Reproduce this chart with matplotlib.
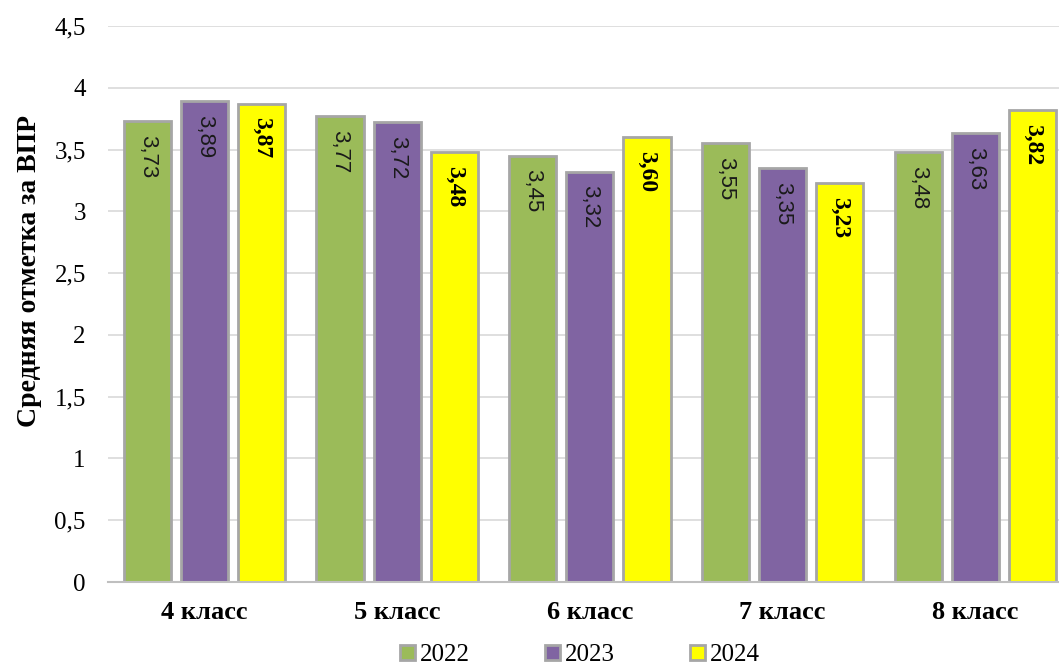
import numpy as np
import matplotlib
matplotlib.use('Agg')
import matplotlib.pyplot as plt
from matplotlib.patches import Patch

# data
classes = ['4 класс', '5 класс', '6 класс', '7 класс', '8 класс']
years = ['2022', '2023', '2024']
v2022 = [3.73, 3.77, 3.45, 3.55, 3.48]
v2023 = [3.89, 3.72, 3.32, 3.35, 3.63]
v2024 = [3.87, 3.48, 3.60, 3.23, 3.82]
yticks = [0, 0.5, 1, 1.5, 2, 2.5, 3, 3.5, 4, 4.5]

colors = ['#9BBB59', '#8064A2', '#FFFF00']
edge = '#A6A6A6'
serif = 'Liberation Serif'
sans = 'Liberation Sans'

fig = plt.figure(figsize=(10.59, 6.70), dpi=100)
ax = fig.add_axes([0.102, 0.1313, 0.910, 0.8299])

x = np.arange(len(classes))
w = 0.245
off = 0.296
series = [v2022, v2023, v2024]
for i, vals in enumerate(series):
    pos = x + (i - 1) * off
    ax.bar(pos, vals, w, color=colors[i], edgecolor=edge, linewidth=2, zorder=3)
    for p, v in zip(pos, vals):
        lab = f'{v:.2f}'.replace('.', ',')
        if i == 2:
            ax.text(p, v - 0.11, lab, rotation=-90, ha='center', va='top',
                    fontsize=17, fontweight='bold', family=serif, zorder=4)
        else:
            ax.text(p, v - 0.11, lab, rotation=-90, ha='center', va='top',
                    fontsize=16, family=sans, color='#1a1a1a', zorder=4)

ax.set_xlim(-0.5, len(classes) - 0.5)
ax.set_ylim(0, 4.5)
ax.set_yticks(yticks)
ax.set_yticklabels([f'{t:g}'.replace('.', ',') for t in yticks],
                   fontsize=18, family=serif)
ax.set_xticks(x)
ax.set_xticklabels(classes, fontsize=19, fontweight='bold', family=serif)
ax.tick_params(axis='y', length=0, pad=16)
ax.tick_params(axis='x', length=0, pad=14)
ax.grid(axis='y', color='#D9D9D9', linewidth=1.2, zorder=0)
for s in ['top', 'right', 'left']:
    ax.spines[s].set_visible(False)
ax.spines['bottom'].set_color('#BFBFBF')
ax.spines['bottom'].set_linewidth(1.5)
ax.spines['bottom'].set_zorder(5)

ax.set_ylabel('Средняя отметка за ВПР', fontsize=20, fontweight='bold',
              family=serif)
ax.yaxis.set_label_coords(-0.068, 0.56)

handles = [Patch(facecolor=c, edgecolor=edge, linewidth=2) for c in colors]
fig.legend(handles, years, loc='center', bbox_to_anchor=(0.548, 0.022),
           ncol=3, frameon=False, handlelength=0.6, handleheight=0.6,
           handletextpad=0.2, columnspacing=3.0,
           prop={'family': serif, 'size': 18})

fig.savefig('out.png', dpi=100)
